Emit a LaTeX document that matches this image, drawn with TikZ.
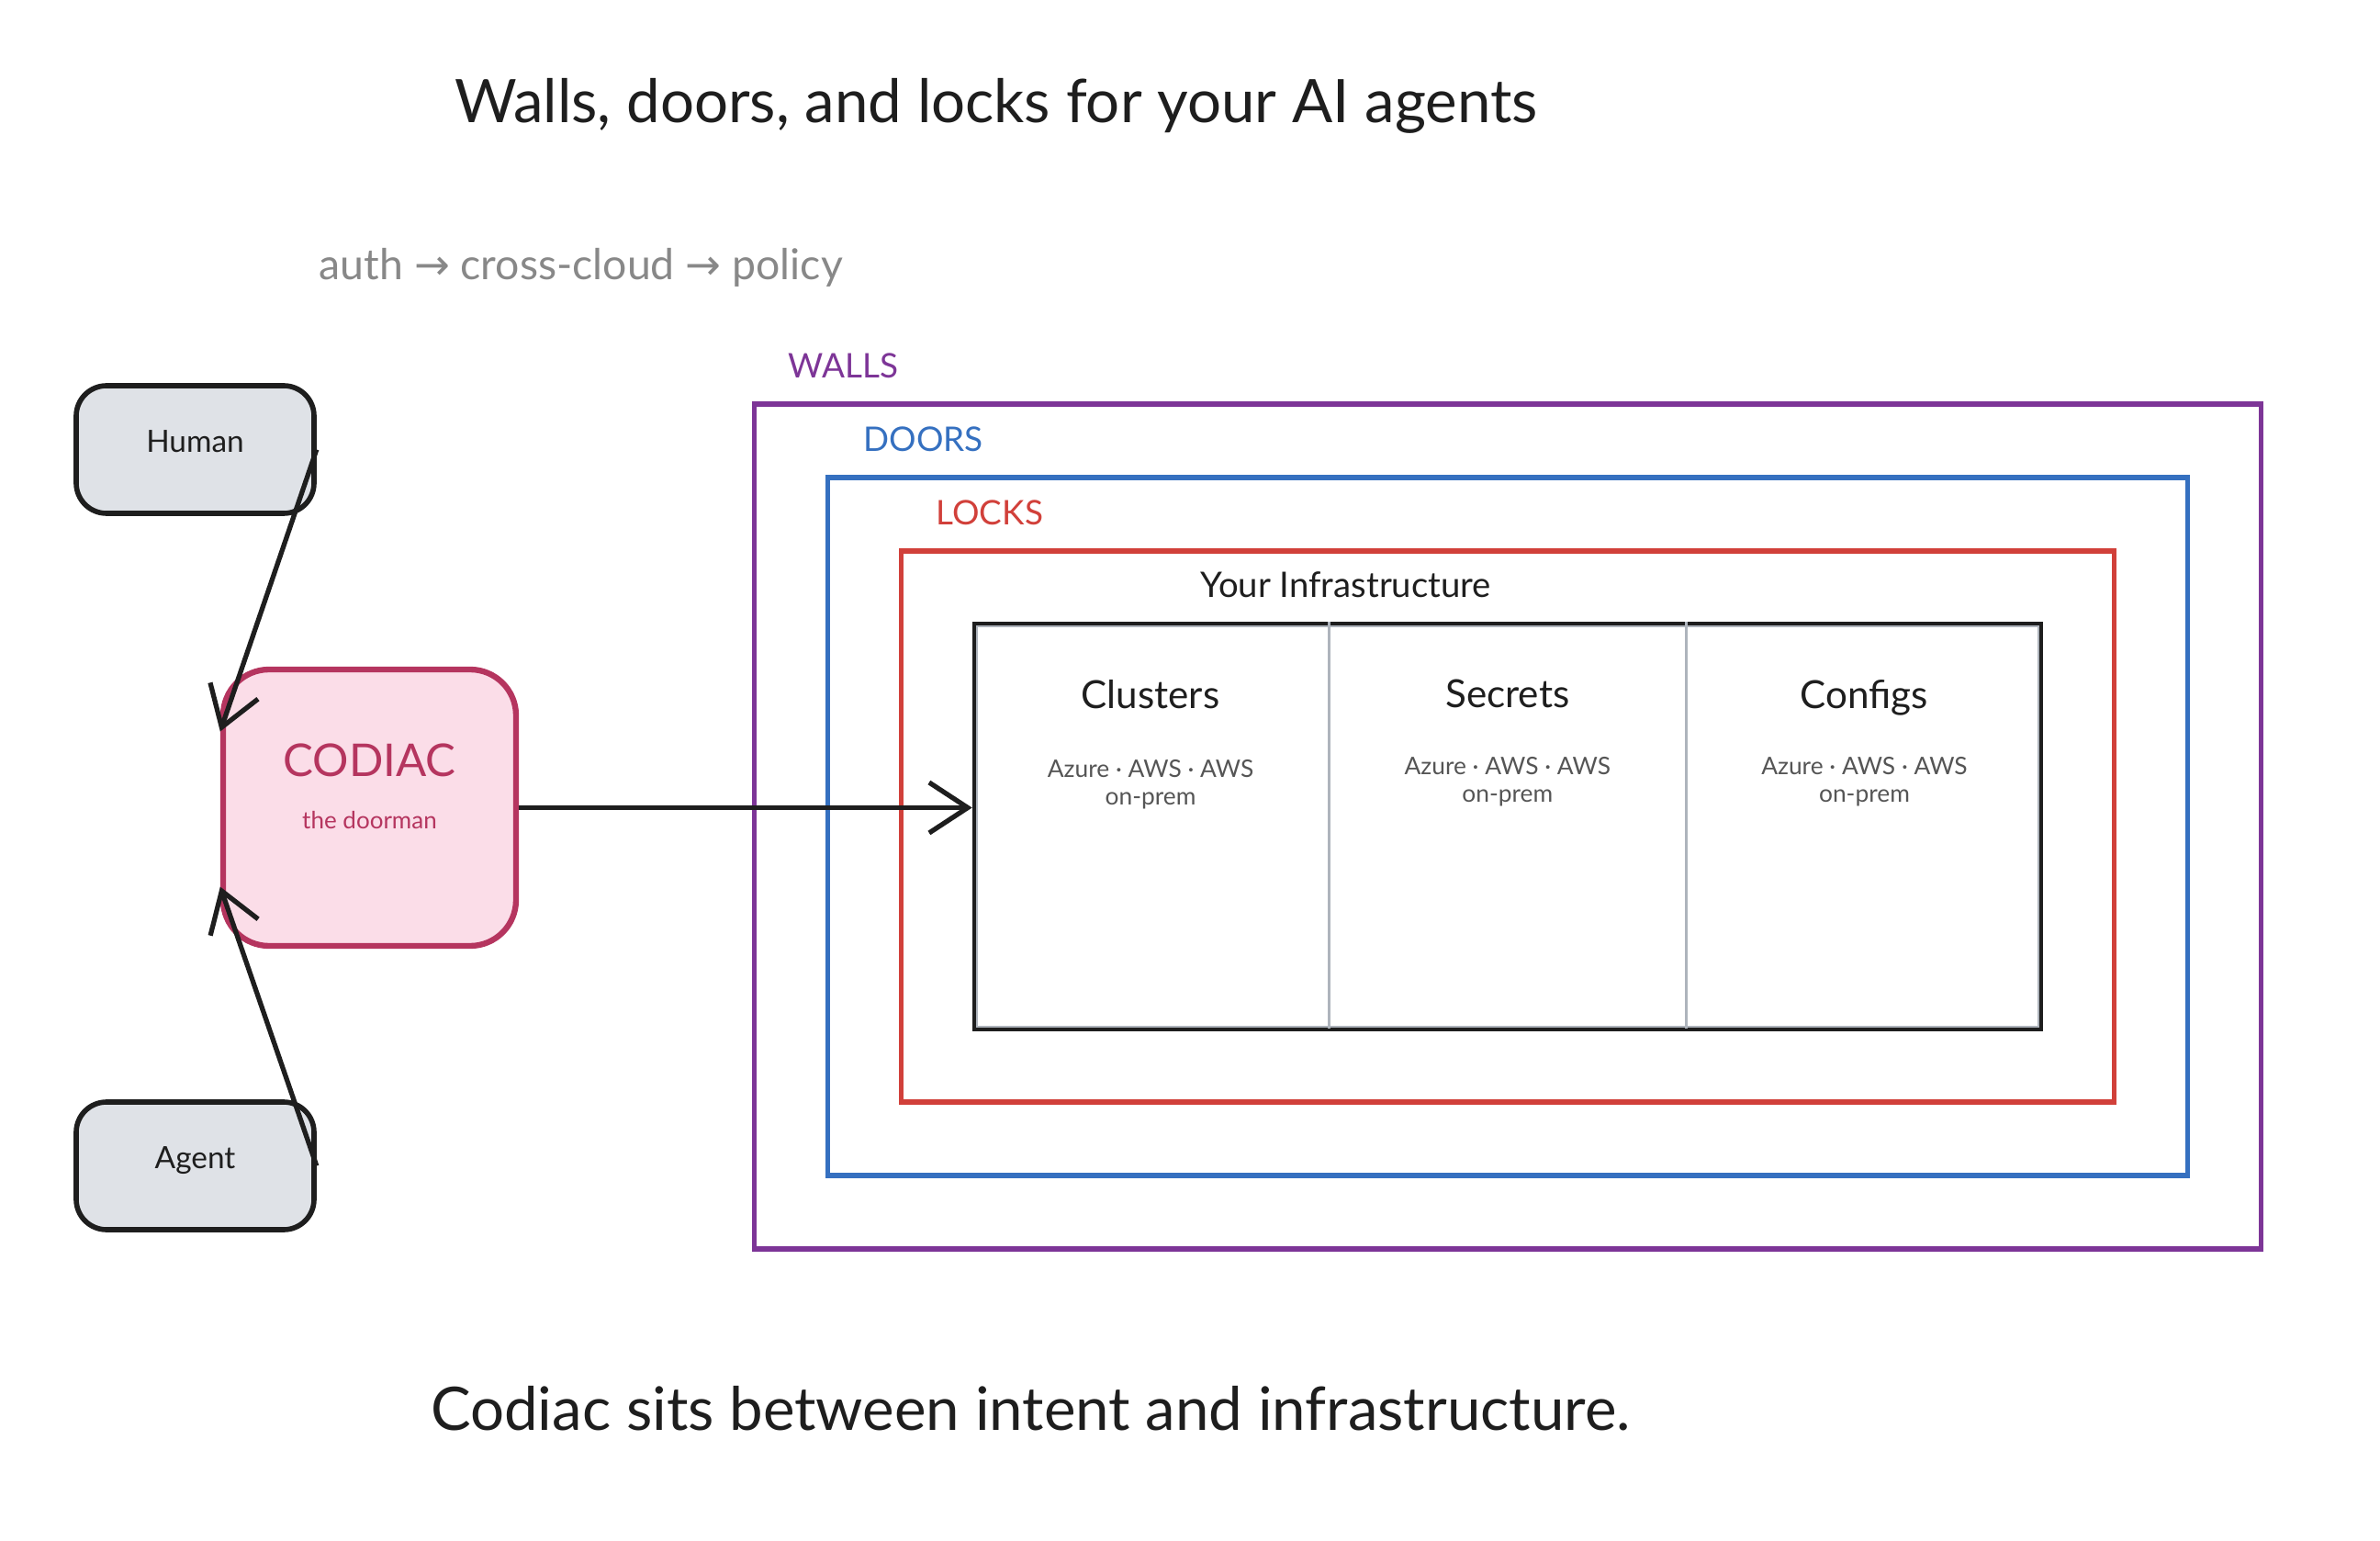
\documentclass[tikz,border=0pt]{standalone}
\usepackage{fontspec}
\setmainfont{Lato}
\newfontfamily\arrowfont{DejaVu Sans}
\usepackage{tikz}
\usetikzlibrary{arrows.meta, calc, positioning}
\usepackage{xcolor}
\definecolor{ink}{HTML}{1E1E1E}
\definecolor{actorgray}{HTML}{DFE2E7}
\definecolor{codiacline}{HTML}{B5355F}
\definecolor{codiacfill}{HTML}{FBDDE8}
\definecolor{wallcolor}{HTML}{7D3597}
\definecolor{doorcolor}{HTML}{3570C0}
\definecolor{lockcolor}{HTML}{D1403A}
\definecolor{flowgray}{HTML}{888888}
\definecolor{subgray}{HTML}{555555}
\definecolor{dividergray}{HTML}{AEB4BC}

\begin{document}
\begin{tikzpicture}[
    headline/.style={inner sep=0pt, font=\fontsize{18.6}{22}\selectfont, text=ink},
    flow/.style={inner sep=0pt, font=\fontsize{13.2}{15}\selectfont, text=flowgray},
    actor/.style={rectangle, draw=ink, line width=1.6pt, fill=actorgray, rounded corners=0.33cm, minimum width=2.59cm, minimum height=1.39cm, font=\fontsize{9.5}{11}\selectfont, text=ink},
    doorman/.style={rectangle, draw=codiacline, fill=codiacfill, line width=1.8pt, rounded corners=0.5cm, minimum width=3.19cm, minimum height=3.01cm},
    brand/.style={inner sep=0pt, font=\fontsize{14}{16}\selectfont, text=codiacline},
    brandsub/.style={inner sep=0pt, font=\fontsize{7.4}{9}\selectfont, text=codiacline},
    ring/.style={rectangle, line width=1.5pt, inner sep=0pt},
    tag/.style={inner sep=0pt, font=\fontsize{10.5}{12}\selectfont},
    col/.style={rectangle, inner sep=0pt, minimum width=3.873cm, minimum height=4.42cm},
    colhead/.style={inner sep=0pt, font=\fontsize{12}{14}\selectfont, text=ink},
    colsub/.style={inner sep=0pt, align=center, font=\fontsize{7.5}{8.6}\selectfont, text=subgray},
    divider/.style={draw=dividergray, line width=0.8pt},
    arrow/.style={-{Straight Barb[length=0.42cm, width=0.55cm]}, line width=1.5pt, draw=ink}
]
    \useasboundingbox (0,0) rectangle (25.92,-16.78);

    % title and flow
    \node[headline] (title) at (10.85,-1.15) {Walls, doors, and locks for your AI agents};
    \node[flow, anchor=west] (flow) at (3.47,-2.91) {auth {\arrowfont →} cross-cloud {\arrowfont →} policy};

    % callers
    \node[actor] (human) at (2.125,-4.895) {\raisebox{0.17cm}{Human}};
    \node[actor] (agent) at (2.125,-12.695) {\raisebox{0.17cm}{Agent}};

    % the doorman
    \node[doorman] (codiac) at (4.025,-8.795) {};
    \node[brand, yshift=0.52cm] (codiacname) at (codiac.center) {CODIAC};
    \node[brandsub, yshift=-0.14cm] (codiacrole) at (codiac.center) {the doorman};

    % walls, doors, locks
    \node[ring, draw=wallcolor, minimum width=16.41cm, minimum height=9.2cm] (walls) at (16.42,-9.0) {};
    \node[ring, draw=doorcolor, minimum width=14.81cm, minimum height=7.6cm] (doors) at (16.42,-9.0) {};
    \node[ring, draw=lockcolor, minimum width=13.21cm, minimum height=6.0cm] (locks) at (16.42,-9.0) {};
    \node[tag, text=wallcolor, above right=0.25cm and 0.39cm of walls.north west] (wallstag) {WALLS};
    \node[tag, text=doorcolor, above right=0.25cm and 0.41cm of doors.north west] (doorstag) {DOORS};
    \node[tag, text=lockcolor, above right=0.25cm and 0.40cm of locks.north west] (lockstag) {LOCKS};

    % infrastructure
    \node[ring, draw=ink, line width=1.3pt, minimum width=11.62cm, minimum height=4.42cm] (infra) at (16.42,-9.0) {};
    \draw[draw=dividergray, line width=0.6pt] ($(infra.north west)+(0.05,-0.05)$) rectangle ($(infra.south east)+(-0.05,0.05)$);
    \node[tag, text=ink, font=\fontsize{10.9}{12}\selectfont, above right=0.25cm and 2.48cm of infra.north west] (infratag) {Your Infrastructure};

    \node[col, anchor=north west] (col1) at (infra.north west) {};
    \node[col, right=0cm of col1] (col2) {};
    \node[col, right=0cm of col2] (col3) {};
    \draw[divider] (col1.north east) -- (col1.south east);
    \draw[divider] (col2.north east) -- (col2.south east);

    \node[colhead, below=0.63cm of col1.north] (clusters) {Clusters};
    \node[colhead, below=0.63cm of col2.north] (secrets) {Secrets};
    \node[colhead, below=0.63cm of col3.north] (configs) {Configs};
    \node[colsub, below=1.50cm of col1.north] (clusterssub) {Azure · AWS · AWS\\on-prem};
    \node[colsub, below=1.47cm of col2.north] (secretssub) {Azure · AWS · AWS\\on-prem};
    \node[colsub, below=1.47cm of col3.north] (configssub) {Azure · AWS · AWS\\on-prem};

    % tagline
    \node[headline] (tagline) at (11.225,-15.34) {Codiac sits between intent and infrastructure.};

    % arrows
    \coordinate (humanin) at ($(codiac.north west)!0.23!(codiac.south west)$);
    \coordinate (agentin) at ($(codiac.north west)!0.78!(codiac.south west)$);
    \draw[arrow] (human.east) -- (humanin);
    \draw[arrow] (agent.east) -- (agentin);
    \draw[arrow] (codiac.east) -- (codiac.east -| infra.west);
\end{tikzpicture}
\end{document}
